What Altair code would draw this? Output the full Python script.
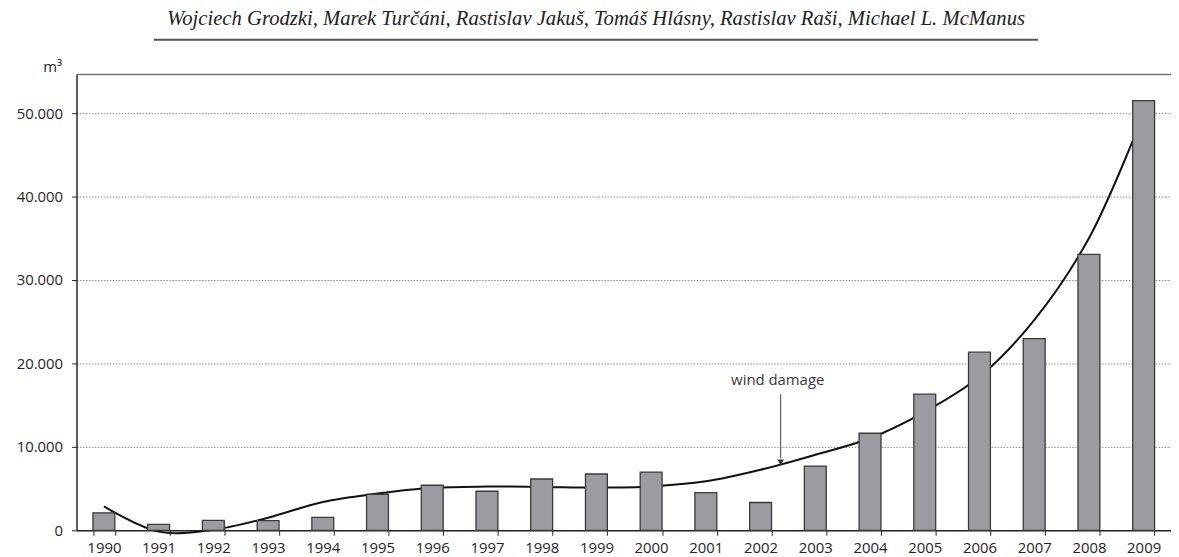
import altair as alt
import pandas as pd

# ---- data ----
years = [str(y) for y in range(1990, 2010)]
bar_values = [2100, 700, 1200, 1150, 1550, 4320, 5400, 4680, 6150, 6750,
              6980, 4520, 3330, 7700, 11630, 16310, 21350, 22980, 33060, 51500]
trend_values = [2860, -160, 60, 1510, 3400, 4400, 5100, 5240, 5200, 5120,
                5260, 5870, 7260, 9050, 11030, 14200, 18400, 25200, 35000, 49900]
y_ticks = [0, 10000, 20000, 30000, 40000, 50000]
header_text = ("Wojciech Grodzki, Marek Turčáni, Rastislav Jakuš, Tomáš Hlásny, "
               "Rastislav Raši, Michael L. McManus")
annotation_label = ["wind damage"]
annotation_text_y = [18000]
annotation_arrow_top = [16300]
annotation_arrow_bottom = [8600]
annotation_head_y = [8150]

W, H = 1102, 459
FONT = "Open Sans"
INK = "#262626"

bars_df = pd.DataFrame({"year": years, "value": bar_values})
trend_df = pd.DataFrame({"year": years, "value": trend_values})
text_df = pd.DataFrame({"label": annotation_label, "value": annotation_text_y})
arrow_df = pd.DataFrame({"value": annotation_arrow_top, "value2": annotation_arrow_bottom})
head_df = pd.DataFrame({"value": annotation_head_y})

x_scale = alt.Scale(paddingInner=0.6, paddingOuter=0.3)
y_scale = alt.Scale(domain=[0, 54640], nice=False, zero=False)

x_axis = alt.Axis(title=None, labelAngle=0, tickBand="extent", grid=False,
                  domainColor=INK, domainWidth=1.5, tickColor=INK, tickSize=5,
                  labelPadding=5, labelFont=FONT, labelFontSize=15, labelColor=INK)
y_axis = alt.Axis(values=y_ticks,
                  labelExpr="replace(format(datum.value, ','), ',', '.')",
                  grid=True, gridDash=[1.5, 1.5], gridColor="#8a8a8a", gridWidth=1,
                  domainColor=INK, domainWidth=1.5, tickColor=INK, tickSize=5,
                  labelPadding=9, labelFont=FONT, labelFontSize=15, labelColor=INK,
                  title="m³", titleAngle=0, titleAlign="right", titleBaseline="alphabetic",
                  titleX=-15, titleY=-3, titleFont=FONT, titleFontSize=15,
                  titleFontWeight="normal", titleColor=INK)

Y = alt.Y("value:Q", scale=y_scale, axis=y_axis)
X = alt.X("year:N", scale=x_scale, axis=x_axis)

trend = alt.Chart(trend_df).mark_line(
    color="#111111", strokeWidth=2, interpolate="catmull-rom", clip=False
).encode(x=X, y=Y)

bars = alt.Chart(bars_df).mark_bar(
    color="#9c9ca0", stroke="#3a3a3a", strokeWidth=1.3
).encode(x=X, y=Y)

ann_text = alt.Chart(text_df).mark_text(
    font=FONT, fontSize=15, color="#3a3a3a", baseline="middle"
).encode(x=alt.value(706), y=Y, text="label:N")

ann_rule = alt.Chart(arrow_df).mark_rule(color="#444444", strokeWidth=1).encode(
    x=alt.value(709), y=Y, y2="value2:Q"
)

ann_head = alt.Chart(head_df).mark_point(
    shape="triangle-down", filled=True, color="#333333", size=45, opacity=1
).encode(x=alt.value(709), y=Y)

one = pd.DataFrame({"k": [0]})

top_line = alt.Chart(one).mark_rule(color="#777777", strokeWidth=1.5).encode(
    x=alt.value(0), x2=alt.value(W), y=alt.value(0)
)

header = alt.Chart(one).mark_text(
    text=header_text, font="Liberation Serif", fontStyle="italic", fontSize=20.8,
    color="#222222", baseline="middle", align="center"
).encode(x=alt.value(523), y=alt.value(-56))

header_line = alt.Chart(one).mark_rule(color="#555555", strokeWidth=2).encode(
    x=alt.value(78), x2=alt.value(968), y=alt.value(-35)
)

chart = alt.layer(
    trend, bars, ann_text, ann_rule, ann_head, top_line, header, header_line
).properties(
    width=W, height=H,
    background="white",
    autosize=alt.AutoSizeParams(type="none"),
    padding={"left": 69, "top": 65, "right": 0, "bottom": 25},
).configure_view(strokeWidth=0)

chart.save("out.html", embed_options={"renderer": "svg", "actions": False})
